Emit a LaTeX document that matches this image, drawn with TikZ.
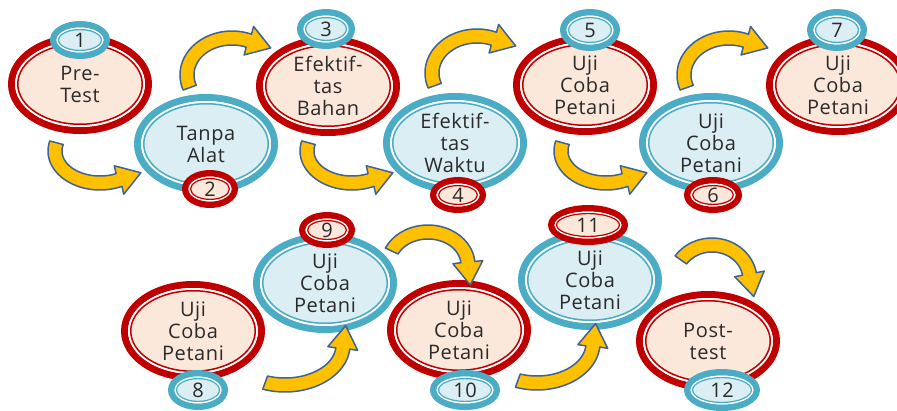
\documentclass[tikz,border=0pt]{standalone}
\usepackage{fontspec}
\setmainfont{Open Sans}[LetterSpace=3.0]
\usetikzlibrary{shapes.geometric}

\definecolor{ringred}{RGB}{192,0,0}
\definecolor{peach}{RGB}{252,232,218}
\definecolor{ringblue}{RGB}{75,172,198}
\definecolor{paleblue}{RGB}{218,238,243}
\definecolor{arrowyellow}{RGB}{255,192,0}
\definecolor{arrowedge}{RGB}{62,98,148}
\definecolor{inkgrey}{RGB}{42,42,42}

\tikzset{
  lbl/.style={font=\fontsize{20}{22}\selectfont, text=inkgrey, align=center},
  bigoval/.style={ellipse, minimum width=137pt, minimum height=93pt,
    inner sep=0pt, outer sep=0pt, line width=7pt, lbl},
  badgeoval/.style={ellipse, inner sep=0pt, outer sep=0pt, line width=6.5pt, lbl},
  arcarrow/.style={fill=arrowyellow, draw=arrowedge, line width=1.5pt, line join=round},
}

% large step oval with a double rim: name, position, rim colour, fill, text
\newcommand\bigring[5]{%
  \node[bigoval, draw=#3, fill=#4] (#1) at (#2) {#5};
  \draw[white, line width=2pt] (#1.center) ellipse [x radius=64, y radius=42];
  \draw[#3, line width=1.5pt] (#1.center) ellipse [x radius=62.25, y radius=40.25];
}

% small number badge: name, position, x radius, y radius, rim colour, fill, text
\newcommand\badge[7]{%
  \node[badgeoval, draw=#5, fill=#6, minimum width={2*(#3-3.25)},
        minimum height={2*(#4-3.25)}] (#1) at (#2) {#7};
  \draw[white, line width=1.5pt] (#1.center) ellipse [x radius={#3-7.25}, y radius={#4-7.25}];
  \draw[#5, line width=1.2pt] (#1.center) ellipse [x radius={#3-8.6}, y radius={#4-8.6}];
}

% bent block arrow along an elliptic arc: centre, x radius, y radius, start angle, end angle
\newcommand\bentarrow[5]{%
  \begin{scope}[shift={(#1)}]
    \pgfmathsetmacro\ArA{#2}
    \pgfmathsetmacro\ArB{#3}
    \pgfmathsetmacro\ArS{#4}
    \pgfmathsetmacro\ArE{#5}
    \pgfmathsetmacro\ArDir{(\ArE>\ArS)?1:-1}
    \pgfmathsetmacro\ArTx{(-1)*(\ArDir)*\ArA*sin(\ArE)}
    \pgfmathsetmacro\ArTy{(\ArDir)*\ArB*cos(\ArE)}
    \pgfmathsetmacro\ArTn{veclen(\ArTx,\ArTy)}
    \pgfmathsetmacro\ArUx{(\ArTx)/\ArTn}
    \pgfmathsetmacro\ArUy{(\ArTy)/\ArTn}
    \pgfmathsetmacro\ArNx{\ArB*cos(\ArE)}
    \pgfmathsetmacro\ArNy{\ArA*sin(\ArE)}
    \pgfmathsetmacro\ArNn{veclen(\ArNx,\ArNy)}
    \pgfmathsetmacro\ArNx{(\ArNx)/\ArNn}
    \pgfmathsetmacro\ArNy{(\ArNy)/\ArNn}
    \pgfmathsetmacro\ArPx{\ArA*cos(\ArE)}
    \pgfmathsetmacro\ArPy{\ArB*sin(\ArE)}
    \filldraw[arcarrow]
      plot[domain=\ArS:\ArE, samples=40, variable=\t] ({(\ArA+7)*cos(\t)}, {(\ArB+7)*sin(\t)})
      -- ({\ArPx+15*(\ArNx)}, {\ArPy+15*(\ArNy)})
      -- ({\ArPx+23*(\ArUx)}, {\ArPy+23*(\ArUy)})
      -- ({\ArPx-15*(\ArNx)}, {\ArPy-15*(\ArNy)})
      -- plot[domain=\ArE:\ArS, samples=40, variable=\t] ({(\ArA-7)*cos(\t)}, {(\ArB-7)*sin(\t)})
      -- cycle;
  \end{scope}}

\begin{document}
\begin{tikzpicture}[x=1pt, y=-1pt]
\useasboundingbox (0,0) rectangle (897,410);

% upper row of steps
\bigring{n1}{80,84}{ringred}{peach}{Pre-\\Test}
\bigring{n2}{206,144}{ringblue}{paleblue}{Tanpa\\Alat}
\bigring{n3}{328,86}{ringred}{peach}{Efektif-\\tas\\Bahan}
\bigring{n4}{455,143}{ringblue}{paleblue}{Efektif-\\tas\\Waktu}
\bigring{n5}{585,85}{ringred}{peach}{Uji\\Coba\\Petani}
\bigring{n6}{711,143}{ringblue}{paleblue}{Uji\\Coba\\Petani}
\bigring{n7}{838,85}{ringred}{peach}{Uji\\Coba\\Petani}

% lower row of steps
\bigring{n8}{193,331}{ringred}{peach}{Uji\\Coba\\Petani}
\bigring{n9}{325,283}{ringblue}{paleblue}{Uji\\Coba\\Petani}
\bigring{n10}{459,330}{ringred}{peach}{Uji\\Coba\\Petani}
\bigring{n11}{590,280}{ringblue}{paleblue}{Uji\\Coba\\Petani}
\bigring{n12}{708,341}{ringred}{peach}{Post-\\test}

% step numbers
\badge{b1}{80,40}{30}{19}{ringblue}{paleblue}{1}
\badge{b2}{210,189}{28}{19}{ringred}{peach}{2}
\badge{b3}{326,29}{29}{20}{ringblue}{paleblue}{3}
\badge{b4}{458,195}{28}{18}{ringred}{peach}{4}
\badge{b5}{590,30}{30}{21}{ringblue}{paleblue}{5}
\badge{b6}{713,195}{29}{18}{ringred}{peach}{6}
\badge{b7}{837,30}{30}{21}{ringblue}{paleblue}{7}
\badge{b8}{198,390}{30}{20}{ringblue}{paleblue}{8}
\badge{b9}{327,230}{28}{18}{ringred}{peach}{9}
\badge{b10}{465,390}{35}{20}{ringblue}{paleblue}{10}
\badge{b11}{588,225}{40}{20}{ringred}{peach}{11}
\badge{b12}{722,390}{38}{21}{ringblue}{paleblue}{12}

% centres of the bent arrows
\coordinate (c12) at (100,151);
\coordinate (c23) at (232,75);
\coordinate (c34) at (352,151);
\coordinate (c45) at (477,73);
\coordinate (c56) at (606,151);
\coordinate (c67) at (729,75);
\coordinate (c89) at (285,345);
\coordinate (c910) at (428,265);
\coordinate (c1011) at (537,343);
\coordinate (c1112) at (712,280);

\bentarrow{c12}{45}{32}{195}{65}
\bentarrow{c23}{45}{37}{160}{292}
\bentarrow{c34}{45}{32}{195}{65}
\bentarrow{c45}{45}{37}{160}{292}
\bentarrow{c56}{45}{32}{195}{65}
\bentarrow{c67}{45}{37}{160}{292}
\bentarrow{c89}{58}{40}{110}{5}
\bentarrow{c910}{40}{33}{205}{355}
\bentarrow{c1011}{56}{40}{110}{5}
\bentarrow{c1112}{38}{35}{215}{350}
\end{tikzpicture}
\end{document}
